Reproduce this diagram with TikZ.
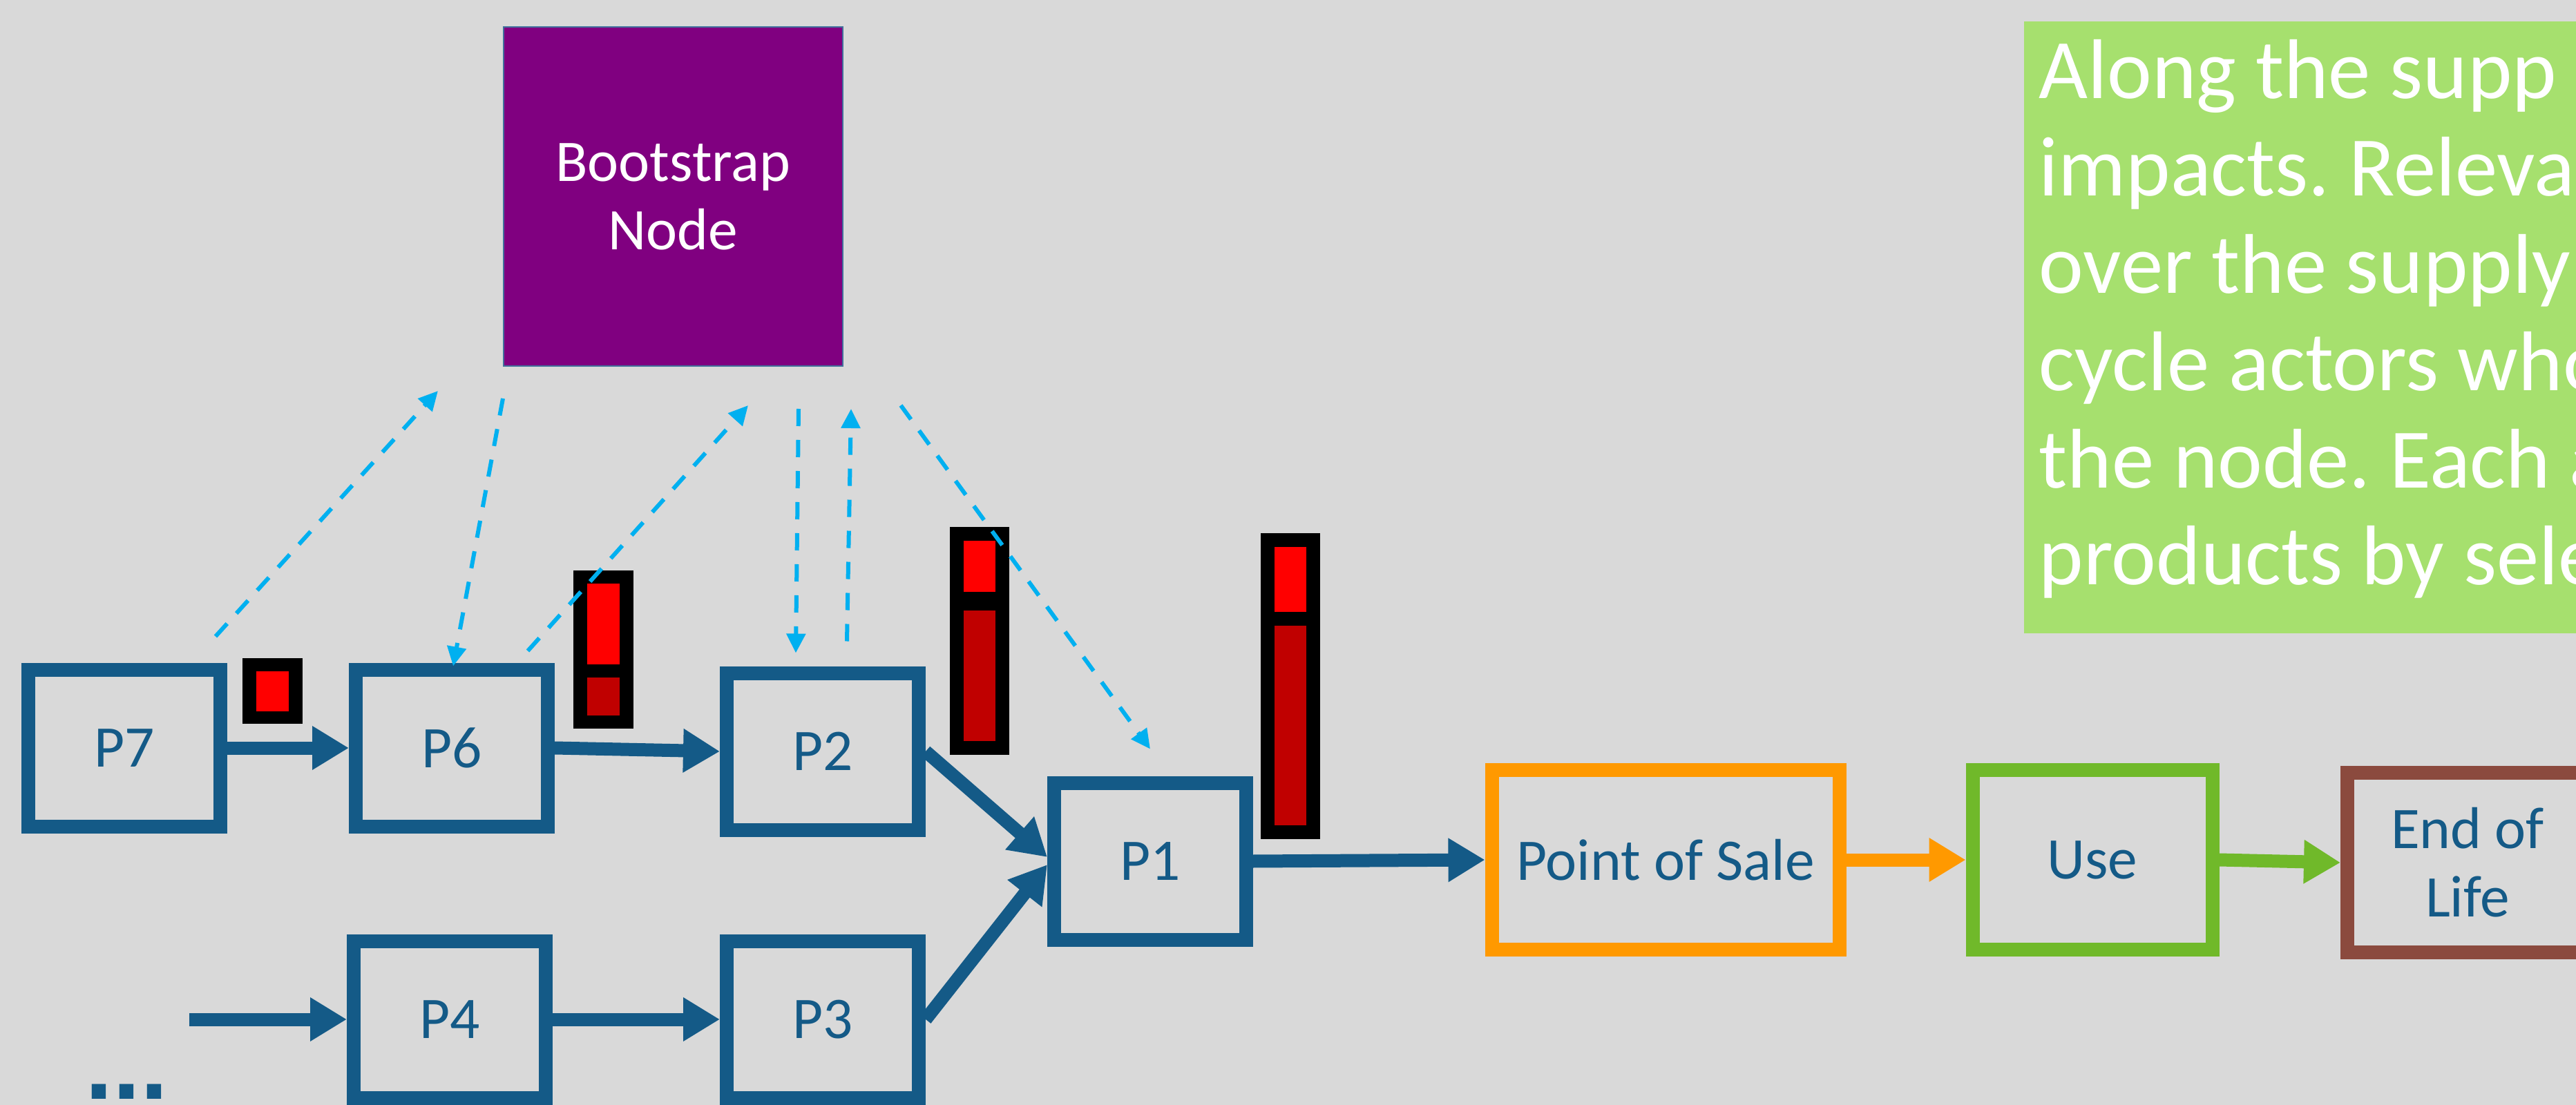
\documentclass[tikz,border=0pt]{standalone}
\usepackage{fontspec}
\setmainfont{Carlito}
\newfontfamily\dotsfont{Liberation Sans}
\usepackage{tikz}
\usetikzlibrary{arrows.meta}

\definecolor{bgcol}{HTML}{D9D9D9}
\definecolor{stageblue}{HTML}{145A87}
\definecolor{linkblue}{HTML}{00B0F0}
\definecolor{saleorange}{HTML}{FF9900}
\definecolor{usegreen}{HTML}{70B92A}
\definecolor{eolbrown}{HTML}{8B4A3E}
\definecolor{notegreen}{HTML}{A6E06E}
\definecolor{bootpurple}{HTML}{800080}
\definecolor{bootedge}{HTML}{41719C}
\definecolor{impactred}{HTML}{FF0000}
\definecolor{impactdark}{HTML}{C00000}

\tikzset{
  stage/.style={draw=stageblue, line width=0.2cm, minimum width=2.78cm, minimum height=2.27cm,
    text=stageblue, font=\fontsize{24.3}{28.2}\selectfont, align=center, inner sep=0pt},
  flow/.style={draw=stageblue, line width=0.19cm, -{Triangle[length=0.53cm,width=0.6cm]}},
  link/.style={draw=linkblue, line width=0.06cm, dash pattern=on 0.25cm off 0.2cm,
    -{Triangle[length=0.28cm,width=0.27cm]}},
  noteline/.style={anchor=base west, inner sep=0pt, text=white, font=\fontsize{34.9}{41}\selectfont}
}

\begin{document}
\frenchspacing
\begin{tikzpicture}
\useasboundingbox (0,0) rectangle (37.29,-16);
\clip (0,0) rectangle (37.29,-16);
\fill[bgcol] (0,0) rectangle (37.29,-16);

% note on the right
\fill[notegreen] (29.30,-0.31) rectangle (37.6,-9.17);
\node[noteline] (note1) at (29.51,-1.43) {Along the supp};
\node[noteline] (note2) at (29.51,-2.84) {impacts. Releva};
\node[noteline] (note3) at (29.51,-4.25) {over the supply};
\node[noteline] (note4) at (29.51,-5.66) {cycle actors who};
\node[noteline] (note5) at (29.51,-7.07) {the node. Each a};
\node[noteline] (note6) at (29.51,-8.47) {products by sele};

\node[draw=bootedge, line width=0.02cm, fill=bootpurple, minimum size=4.91cm, text=white,
  font=\fontsize{24.3}{28.2}\selectfont, align=center] (boot) at (9.745,-2.845) {Bootstrap\\Node};

\node[stage] (P7) at (1.80,-10.83) {P7};
\node[stage] (P6) at (6.54,-10.83) {P6};
\node[stage] (P2) at (11.91,-10.88) {P2};
\node[stage] (P4) at (6.51,-14.76) {P4};
\node[stage] (P3) at (11.91,-14.76) {P3};
\node[stage] (P1) at (16.65,-12.47) {P1};
\node[stage, draw=saleorange, minimum width=5.03cm, minimum height=2.6cm] (sale) at (24.11,-12.45) {Point of Sale};
\node[stage, draw=usegreen, minimum width=3.47cm, minimum height=2.6cm] (use) at (30.29,-12.45) {Use};
\node[stage, draw=eolbrown, minimum width=3.48cm, minimum height=2.6cm] (eol) at (35.72,-12.49) {End of\\Life};
\node[anchor=base west, inner sep=0pt, text=stageblue, font=\dotsfont\bfseries\fontsize{41}{41}\selectfont] (more) at (1.23,-15.91) {...};
\coordinate (feed) at (2.74,-14.76);

\fill[black] (3.51,-9.53) rectangle (4.38,-10.48);
\fill[impactred] (3.71,-9.72) rectangle (4.18,-10.30);
\fill[black] (8.30,-8.26) rectangle (9.17,-10.55);
\fill[impactred] (8.50,-8.45) rectangle (8.97,-9.62);
\fill[impactdark] (8.50,-9.81) rectangle (8.97,-10.36);
\fill[black] (13.75,-7.63) rectangle (14.61,-10.93);
\fill[impactred] (13.95,-7.83) rectangle (14.41,-8.57);
\fill[impactdark] (13.95,-8.84) rectangle (14.41,-10.73);
\fill[black] (18.25,-7.72) rectangle (19.11,-12.15);
\fill[impactred] (18.45,-7.92) rectangle (18.91,-8.86);
\fill[impactdark] (18.45,-9.06) rectangle (18.91,-11.95);

\draw[flow] (P7) -- (P6);
\draw[flow] (P6.east) -- (P2.west);
\draw[flow] (P2.east) -- ([yshift=0.06cm]P1.west);
\draw[flow] (P3.east) -- ([yshift=-0.05cm]P1.west);
\draw[flow] (feed) -- (P4.west);
\draw[flow] (P4) -- (P3);
\draw[flow] (P1.east) -- (sale.west);
\draw[flow, draw=saleorange] (sale.east) -- (use.west);
\draw[flow, draw=usegreen] (use.east) -- (eol.west);

\draw[link] ([shift={(-0.17,0.38)}]P7.north east) -- ([shift={(-0.94,-0.35)}]boot.south west);
\draw[link] ([yshift=-0.46cm]boot.south west) -- ([shift={(0.02,-0.05)}]P6.north);
\draw[link] ([shift={(-0.39,0.17)}]P6.north east) -- ([shift={(-1.38,-0.56)}]boot.south east);
\draw[link] ([shift={(-0.65,-0.61)}]boot.south east) -- ([shift={(-0.39,0.19)}]P2.north);
\draw[link] ([shift={(0.35,0.36)}]P2.north) -- ([shift={(0.11,-0.61)}]boot.south east);
\draw[link] ([shift={(0.83,-0.56)}]boot.south east) -- ([yshift=0.39cm]P1.north);
\end{tikzpicture}
\end{document}
